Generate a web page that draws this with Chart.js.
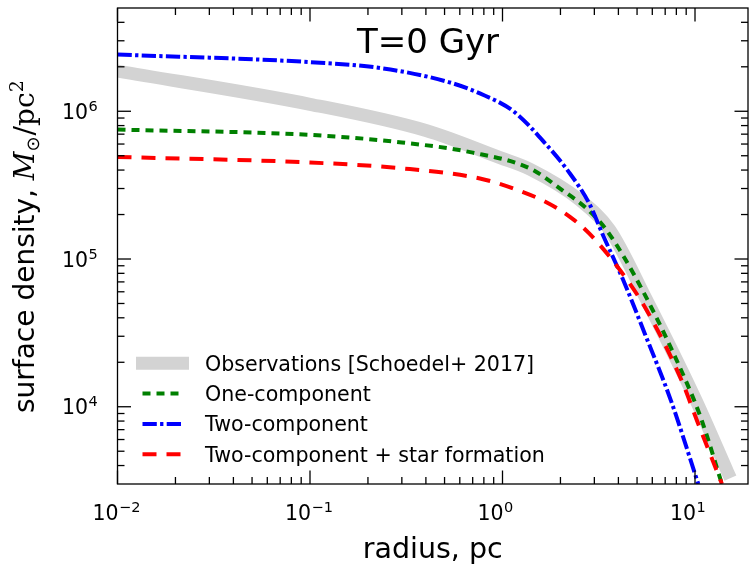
<!DOCTYPE html>
<html>
<head>
<meta charset="utf-8">
<script src="https://cdn.jsdelivr.net/npm/chart.js@4.4.1/dist/chart.umd.min.js"></script>
<style>
  html, body { margin: 0; padding: 0; background: #fff; }
  #kutu { width: 753px; height: 566px; }
</style>
</head>
<body>
<div id="kutu"><canvas id="grafik"></canvas></div>
<script>
// radius in pc, surface density in Msun/pc^2
const obsR     = [0.01, 0.1, 0.4, 0.97, 1.39, 2.53, 3.6, 5.6, 10.1, 14.8];
const obsSigma = [1.87e6, 1.115e6, 7.4e5, 4.85e5, 4.05e5, 2.5e5, 1.58e5, 5.3e4, 1.11e4, 3.6e3];

const oneR     = [0.01, 0.1, 0.3, 0.7, 1.39, 2.04, 2.73, 3.47, 5.28, 9.06, 10.8, 13.8];
const oneSigma = [7.52e5, 6.92e5, 6.15e5, 5.25e5, 4.1e5, 2.93e5, 2.2e5, 1.57e5, 6.3e4, 1.45e4, 8.2e3, 3e3];

const twoR     = [0.01, 0.1, 0.24, 0.53, 0.763, 1.14, 1.67, 2.24, 2.82, 3.35, 4.2, 5.5, 7.5, 10.4];
const twoSigma = [2.42e6, 2.15e6, 1.95e6, 1.57e6, 1.32e6, 1.0e6, 6.05e5, 3.79e5, 2.38e5, 1.42e5, 7.4e4, 3.1e4, 1.1e4, 3e3];

const sfR      = [0.01, 0.1, 0.294, 0.763, 1.14, 1.67, 2.24, 2.82, 4.07, 5.6, 8.53, 10.2, 13.8];
const sfSigma  = [4.91e5, 4.5e5, 4.12e5, 3.51e5, 3.0e5, 2.44e5, 1.93e5, 1.49e5, 8.44e4, 4.52e4, 1.5e4, 8.17e3, 3e3];

const etiketler = ["Observations [Schoedel+ 2017]", "One-component", "Two-component", "Two-component + star formation"];

const xMajor = [0.01, 0.1, 1, 10];
const xUsler = ["\u22122", "\u22121", "0", "1"];
const yMajor = [1e4, 1e5, 1e6];
const yUsler = ["4", "5", "6"];

const noktalar = (r, s) => r.map((v, i) => ({ x: v, y: s[i] }));

const yazi = "'DejaVu Sans', 'Liberation Sans', sans-serif";

const eksenEklentisi = {
    id: 'eksenler',
    afterDatasetsDraw(chart) {
        const ctx = chart.ctx;
        const a = chart.chartArea;
        const xs = chart.scales.x, ys = chart.scales.y;
        ctx.save();

        const cizgi = (x1, y1, x2, y2) => { ctx.beginPath(); ctx.moveTo(x1, y1); ctx.lineTo(x2, y2); ctx.stroke(); };
        ctx.strokeStyle = '#000';
        ctx.lineWidth = 1.3;

        // inward ticks on all four sides
        const buyuk = 13.5, kucuk = 7;
        const xTick = (v, len) => { const p = xs.getPixelForValue(v); cizgi(p, a.bottom, p, a.bottom - len); cizgi(p, a.top, p, a.top + len); };
        const yTick = (v, len) => { const p = ys.getPixelForValue(v); cizgi(a.left, p, a.left + len, p); cizgi(a.right, p, a.right - len, p); };
        for (let d = -2; d <= 1; d++) for (let k = 2; k <= 9; k++) {
            const v = k * Math.pow(10, d);
            if (v > xs.min && v < xs.max) xTick(v, kucuk);
        }
        for (let d = 3; d <= 6; d++) for (let k = 2; k <= 9; k++) {
            const v = k * Math.pow(10, d);
            if (v > ys.min && v < ys.max) yTick(v, kucuk);
        }
        xMajor.forEach(v => xTick(v, buyuk));
        yMajor.forEach(v => yTick(v, buyuk));

        ctx.strokeRect(a.left, a.top, a.right - a.left, a.bottom - a.top);

        // tick labels 10^n
        ctx.fillStyle = '#000';
        ctx.textBaseline = 'alphabetic';
        xMajor.forEach((v, i) => {
            const p = xs.getPixelForValue(v);
            ctx.font = "20.5px " + yazi;
            ctx.textAlign = 'right';
            ctx.fillText("10", p + 1, 520);
            ctx.font = "14.5px " + yazi;
            ctx.textAlign = 'left';
            ctx.fillText(xUsler[i], p + 1.5, 511.5);
        });
        yMajor.forEach((v, i) => {
            const p = ys.getPixelForValue(v);
            ctx.font = "14.5px " + yazi;
            ctx.textAlign = 'left';
            ctx.fillText(yUsler[i], 88.5, p - 0.5);
            ctx.font = "20.5px " + yazi;
            ctx.textAlign = 'right';
            ctx.fillText("10", 88, p + 7.5);
        });

        // x axis title
        ctx.font = "28.5px " + yazi;
        ctx.textAlign = 'center';
        ctx.fillText("radius, pc", (a.left + a.right) / 2, 558);

        // title
        ctx.font = "34px " + yazi;
        ctx.fillText("T=0 Gyr", 428, 53);

        // y axis title, rotated
        ctx.save();
        ctx.translate(34, 413);
        ctx.rotate(-Math.PI / 2);
        ctx.textAlign = 'left';
        let x = 0;
        const parca = (t, font, dy) => { ctx.font = font; ctx.fillText(t, x, dy); x += ctx.measureText(t).width; };
        parca("surface density, ", "28px " + yazi, 0);
        parca("M", "italic 28px 'DejaVu Serif', serif", 0);
        parca("\u2299", "18px " + yazi, 5);
        x += 1;
        parca("/pc", "28px 'DejaVu Serif', serif", 0);
        parca("2", "19px 'DejaVu Serif', serif", -11);
        ctx.restore();

        // legend inside the axes, no frame
        const satirlar = [363.3, 393.5, 424, 454.3];
        chart.data.datasets.forEach((ds, i) => {
            const y = satirlar[i];
            ctx.save();
            ctx.strokeStyle = ds.borderColor;
            ctx.lineWidth = ds.borderWidth;
            ctx.lineCap = ds.borderCapStyle || 'butt';
            ctx.setLineDash(ds.borderDash || []);
            cizgi(142.5, y, 182.5, y);
            ctx.restore();
            ctx.font = "20.6px " + yazi;
            ctx.textAlign = 'left';
            ctx.fillText(ds.label, 205, y + 7.3);
        });

        ctx.restore();
    }
};

new Chart(document.getElementById('grafik'), {
    type: 'scatter',
    data: {
        datasets: [
            { label: etiketler[0], data: noktalar(obsR, obsSigma), borderColor: '#d3d3d3', borderWidth: 13,
              borderCapStyle: 'square', borderJoinStyle: 'round', cubicInterpolationMode: 'monotone', order: 4 },
            { label: etiketler[1], data: noktalar(oneR, oneSigma), borderColor: '#008000', borderWidth: 4,
              borderDash: [8, 6], cubicInterpolationMode: 'monotone', order: 3 },
            { label: etiketler[2], data: noktalar(twoR, twoSigma), borderColor: '#0000ff', borderWidth: 4,
              borderDash: [14.3, 3.3, 3.3, 3.3], cubicInterpolationMode: 'monotone', order: 2 },
            { label: etiketler[3], data: noktalar(sfR, sfSigma), borderColor: '#ff0000', borderWidth: 4,
              borderDash: [14, 10], cubicInterpolationMode: 'monotone', order: 1 }
        ].map(ds => Object.assign({ showLine: true, pointRadius: 0, pointHoverRadius: 0, clip: 0, fill: false }, ds))
    },
    options: {
        responsive: true,
        maintainAspectRatio: false,
        animation: false,
        events: [],
        layout: { padding: { left: 0, right: 5, top: 8, bottom: 0 } },
        plugins: { legend: { display: false }, tooltip: { enabled: false } },
        scales: {
            x: {
                type: 'logarithmic', min: 0.01, max: 18.85,
                grid: { display: false }, border: { display: false }, ticks: { display: false },
                afterFit: s => { s.height = 82; }
            },
            y: {
                type: 'logarithmic', min: 3000, max: 5e6,
                grid: { display: false }, border: { display: false }, ticks: { display: false },
                afterFit: s => { s.width = 117.5; }
            }
        }
    },
    plugins: [eksenEklentisi]
});
</script>
</body>
</html>
